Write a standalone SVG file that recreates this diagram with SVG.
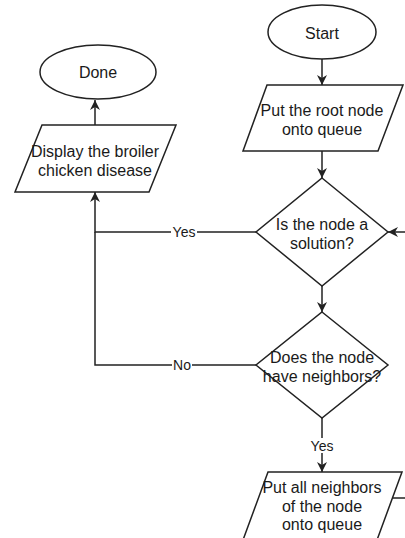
<svg xmlns="http://www.w3.org/2000/svg" width="405" height="538" viewBox="0 0 405 538">
  <style>
    .shape { fill: #ffffff; stroke: #222222; stroke-width: 1.5; }
    .edge { fill: none; stroke: #222222; stroke-width: 1.5; }
    .txt { font-family: "Liberation Sans", Arial, sans-serif; font-size: 16px; fill: #1a1a1a; text-anchor: middle; }
    .lbl { font-family: "Liberation Sans", Arial, sans-serif; font-size: 14px; fill: #1a1a1a; text-anchor: middle; }
    .lblbg { fill: #ffffff; stroke: none; }
  </style>
  <defs>
    <marker id="arrow" viewBox="0 0 10 10" refX="10" refY="5" markerWidth="10" markerHeight="10" markerUnits="userSpaceOnUse" orient="auto">
      <path d="M0,0 L10,5 L0,10 L3,5 Z" fill="#222222" stroke="none"/>
    </marker>
  </defs>
  <rect width="405" height="538" fill="#ffffff"/>

  <!-- connectors -->
  <g id="connectors">
    <line class="edge" x1="322" y1="59" x2="322" y2="85" marker-end="url(#arrow)"/>
    <line class="edge" x1="322" y1="151" x2="322" y2="178" marker-end="url(#arrow)"/>
    <line class="edge" x1="322" y1="286" x2="322" y2="312" marker-end="url(#arrow)"/>
    <line class="edge" x1="322" y1="418" x2="322" y2="472" marker-end="url(#arrow)"/>
    <polyline class="edge" points="256,232 95,232 95,192" marker-end="url(#arrow)"/>
    <polyline class="edge" points="256,365 95,365 95,232"/>
    <line class="edge" x1="95" y1="125" x2="95" y2="100" marker-end="url(#arrow)"/>
    <line class="edge" x1="393" y1="498" x2="406" y2="498"/>
    <line class="edge" x1="406" y1="232" x2="388" y2="232" marker-end="url(#arrow)"/>
    <!-- edge labels -->
    <rect class="lblbg" x="171" y="225" width="26" height="14"/>
    <text class="lbl" x="184" y="237">Yes</text>
    <rect class="lblbg" x="172" y="358" width="20" height="14"/>
    <text class="lbl" x="182" y="370">No</text>
    <rect class="lblbg" x="309" y="438" width="26" height="15"/>
    <text class="lbl" x="322" y="451">Yes</text>
  </g>

  <g id="start">
    <ellipse class="shape" cx="322" cy="32" rx="54" ry="27"/>
    <text class="txt" x="322" y="39">Start</text>
  </g>

  <g id="root-onto-queue">
    <polygon class="shape" points="267,85 403,85 378,151 243,151"/>
    <text class="txt" x="322" y="116">Put the root node</text>
    <text class="txt" x="322" y="135">onto queue</text>
  </g>

  <g id="is-solution">
    <polygon class="shape" points="322,178 388,232 322,286 256,232"/>
    <text class="txt" x="322" y="230">Is the node a</text>
    <text class="txt" x="322" y="249">solution?</text>
  </g>

  <g id="has-neighbors">
    <polygon class="shape" points="322,312 388,365 322,418 256,365"/>
    <text class="txt" x="322" y="363">Does the node</text>
    <text class="txt" x="322" y="382">have neighbors?</text>
  </g>

  <g id="neighbors-onto-queue">
    <polygon class="shape" points="268,472 402,472 377,540 243,540"/>
    <text class="txt" x="322" y="493">Put all neighbors</text>
    <text class="txt" x="322" y="512">of the node</text>
    <text class="txt" x="322" y="530">onto queue</text>
  </g>

  <g id="display-disease">
    <polygon class="shape" points="42,125 176,125 149,192 15,192"/>
    <text class="txt" x="95" y="157">Display the broiler</text>
    <text class="txt" x="95" y="176">chicken disease</text>
  </g>

  <g id="done">
    <ellipse class="shape" cx="98" cy="72" rx="58" ry="27"/>
    <text class="txt" x="98" y="78">Done</text>
  </g>
</svg>
